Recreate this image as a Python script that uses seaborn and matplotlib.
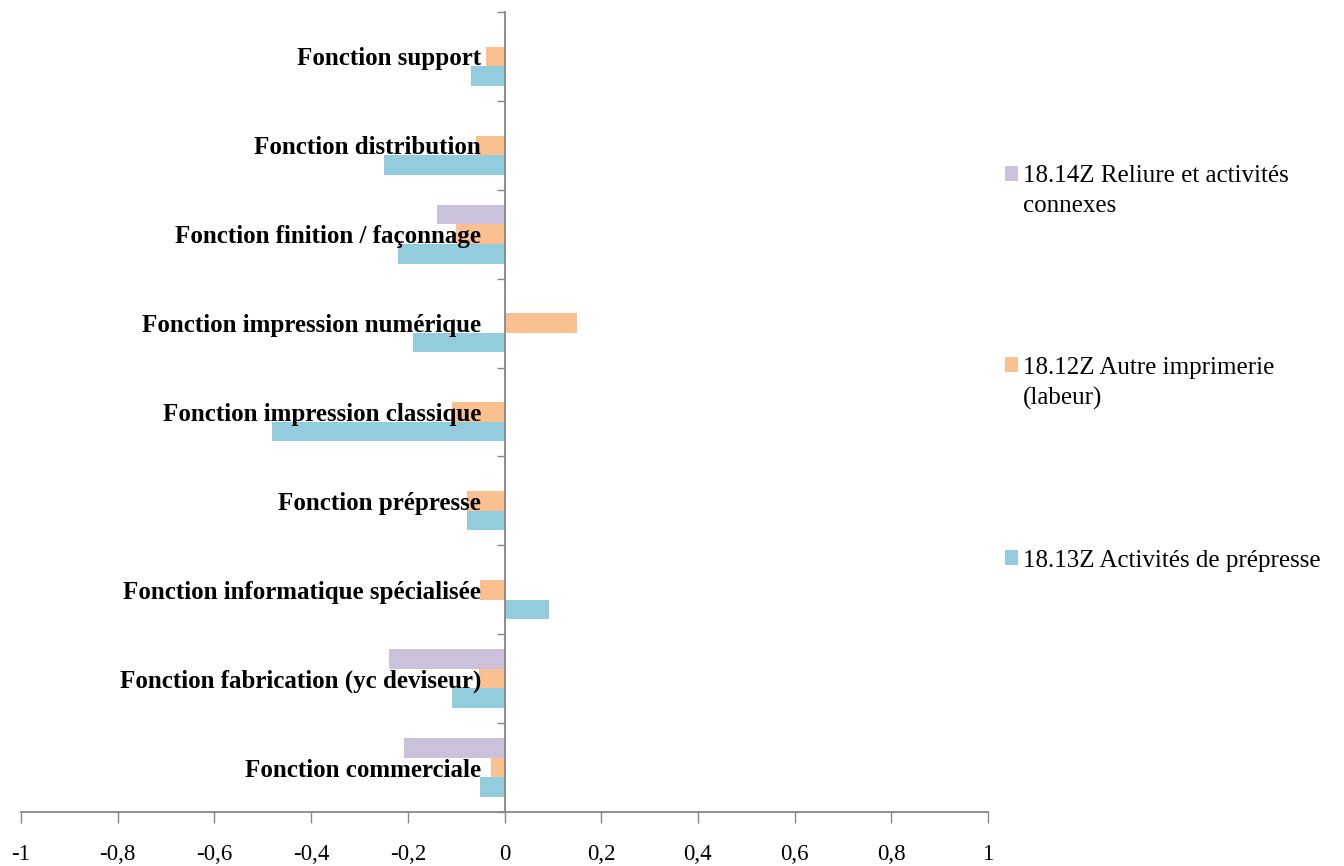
import matplotlib
matplotlib.use("Agg")
import matplotlib.pyplot as plt
import seaborn as sns
import pandas as pd
import numpy as np
from matplotlib.patches import Patch
from matplotlib.offsetbox import HPacker

categories = [
    "Fonction support",
    "Fonction distribution",
    "Fonction finition / façonnage",
    "Fonction impression numérique",
    "Fonction impression classique",
    "Fonction prépresse",
    "Fonction informatique spécialisée",
    "Fonction fabrication (yc deviseur)",
    "Fonction commerciale",
]
series = [
    "18.14Z Reliure et activités connexes",
    "18.12Z Autre imprimerie (labeur)",
    "18.13Z Activités de prépresse",
]
legend_labels = [
    "18.14Z Reliure et activités\nconnexes",
    "18.12Z Autre imprimerie\n(labeur)",
    "18.13Z Activités de prépresse",
]
reliure = [np.nan, np.nan, -0.139, np.nan, np.nan, np.nan, np.nan, -0.239, -0.208]
labeur = [-0.038, -0.058, -0.100, 0.149, -0.108, -0.077, -0.050, -0.052, -0.027]
prepresse = [-0.070, -0.250, -0.221, -0.189, -0.481, -0.077, 0.092, -0.108, -0.050]
x_ticks = [-1, -0.8, -0.6, -0.4, -0.2, 0, 0.2, 0.4, 0.6, 0.8, 1]
x_tick_labels = ["-1", "-0,8", "-0,6", "-0,4", "-0,2", "0", "0,2", "0,4", "0,6", "0,8", "1"]
colors = ["#CCC1DA", "#FAC090", "#93CDDD"]

df = pd.DataFrame({
    "categorie": categories * 3,
    "serie": [s for s in series for _ in categories],
    "valeur": reliure + labeur + prepresse,
})

sns.set_style("white")
plt.rcParams["font.family"] = ["Liberation Serif", "DejaVu Serif"]
plt.rcParams["text.color"] = "black"
plt.rcParams["xtick.labelcolor"] = "black"
plt.rcParams["ytick.labelcolor"] = "black"

fig = plt.figure(figsize=(13.44, 8.66), dpi=100)
ax = fig.add_axes([21 / 1344, 1 - 812 / 866, (988 - 21) / 1344, 800 / 866])

sns.barplot(
    data=df, y="categorie", x="valeur", hue="serie",
    order=categories, hue_order=series, palette=colors, saturation=1,
    orient="h", width=0.66, errorbar=None, linewidth=0,
    legend=False, ax=ax,
)

axis_grey = "#868686"
ax.set_axisbelow(False)
ax.set_xlim(-1, 1)
ax.set_ylim(len(categories) - 0.5, -0.5)
ax.set_xlabel("")
ax.set_ylabel("")

ax.spines["top"].set_visible(False)
ax.spines["right"].set_visible(False)
ax.spines["left"].set_position(("data", 0))
for side in ("left", "bottom"):
    ax.spines[side].set_color(axis_grey)
    ax.spines[side].set_linewidth(1.3)

ax.set_xticks(x_ticks)
ax.set_xticklabels(x_tick_labels, fontsize=16.5)
ax.tick_params(axis="x", bottom=True, direction="out", length=8, width=1,
               color=axis_grey, pad=15)

ax.set_yticks(range(len(categories)))
ax.set_yticklabels(categories, fontsize=18, fontweight="bold")
ax.set_yticks(np.arange(-0.5, len(categories), 1), minor=True)
ax.tick_params(axis="y", which="major", left=False, length=0, pad=17)
ax.tick_params(axis="y", which="minor", left=True, direction="out", length=6,
               width=1, color=axis_grey)

handles = [Patch(facecolor=c, edgecolor="none") for c in colors]
leg = fig.legend(
    handles, legend_labels, loc="upper left",
    bbox_to_anchor=(982 / 1344, 1 - 143 / 866),
    frameon=False, fontsize=18, labelspacing=5.6,
    handlelength=0.55, handleheight=0.55, handletextpad=0.2,
)
for t in leg.get_texts():
    t.set_linespacing(1.45)
# put each square level with the first line of its label
for column in leg._legend_handle_box.get_children():
    for item in column.get_children():
        if isinstance(item, HPacker):
            item.align = "top"

fig.savefig("out.png", dpi=100)
